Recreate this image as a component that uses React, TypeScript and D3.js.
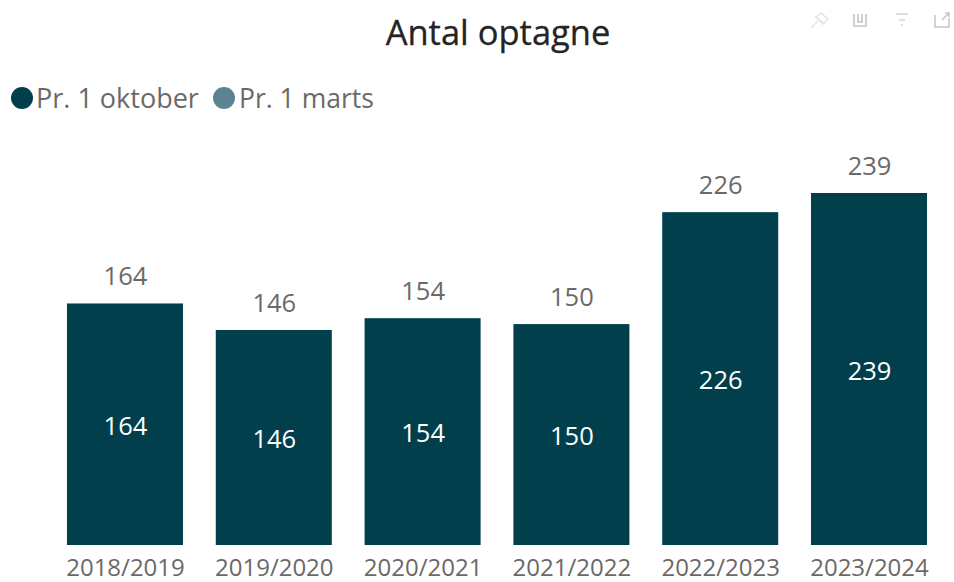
import React from "react";
import * as d3 from "d3";

const categories = ["2018/2019", "2019/2020", "2020/2021", "2021/2022", "2022/2023", "2023/2024"];
const october = [164, 146, 154, 150, 226, 239];
const legendLabels = ["Pr. 1 oktober", "Pr. 1 marts"];
const legendColors = ["#023f4d", "#5b8391"];
const FONT = "'Open Sans', 'Noto Sans', sans-serif";

export default function App() {
  const x = d3.scaleBand().domain(categories).range([52.1, 941.9]).paddingInner(0.2204).paddingOuter(0.1);
  const y = d3.scaleLinear().domain([0, 239]).range([545, 193]);
  return (
    <svg width={954} height={582} style={{ position: "absolute", left: 0, top: 0, background: "#fff" }} fontFamily={FONT}>
      <text x={498} y={45} textAnchor="middle" fontSize={34.5} fill="#252423" stroke="#252423" strokeWidth={0.3}>Antal optagne</text>
      <g fill="none" stroke="#d4d4d4" strokeWidth={1.6}>
        <path d="M811 28 L818 21 M815 16 L825 24 M821 13 L828 19 L823 24 L816 17 Z" stroke="#e6e6e6" />
        <path d="M854 14 V26 H866 V14 M858 14 V22 H862 V14" stroke="#c4c4c4" />
        <path d="M896 14 H908 M899 20 H905 M901 25 H903" />
        <path d="M935 15 V27 H949 V18 M942 20 L949 13 M945 13 H949 V17" stroke="#c8c8c8" />
      </g>
      <circle cx={22} cy={98} r={11} fill={legendColors[0]} />
      <text x={36} y={108} fontSize={27} fill="#6b6967">{legendLabels[0]}</text>
      <circle cx={224} cy={98} r={11} fill={legendColors[1]} />
      <text x={239} y={108} fontSize={26.5} fill="#6b6967">{legendLabels[1]}</text>
      {categories.map((c, i) => {
        const v = october[i];
        const bx = x(c)!;
        const cx = bx + x.bandwidth() / 2 + 0.5;
        const by = y(v);
        return (
          <g key={c}>
            <rect x={bx} y={by} width={x.bandwidth()} height={y(0) - by} fill={legendColors[0]} />
            <text x={cx} y={by - 18} textAnchor="middle" fontSize={25.5} fill="#6b6967">{v}</text>
            <text x={cx} y={(by + y(0)) / 2 + 10.5} textAnchor="middle" fontSize={25.5} fill="#fff">{v}</text>
            <text x={cx} y={575.5} textAnchor="middle" fontSize={24} fill="#6b6967">{c}</text>
          </g>
        );
      })}
    </svg>
  );
}
